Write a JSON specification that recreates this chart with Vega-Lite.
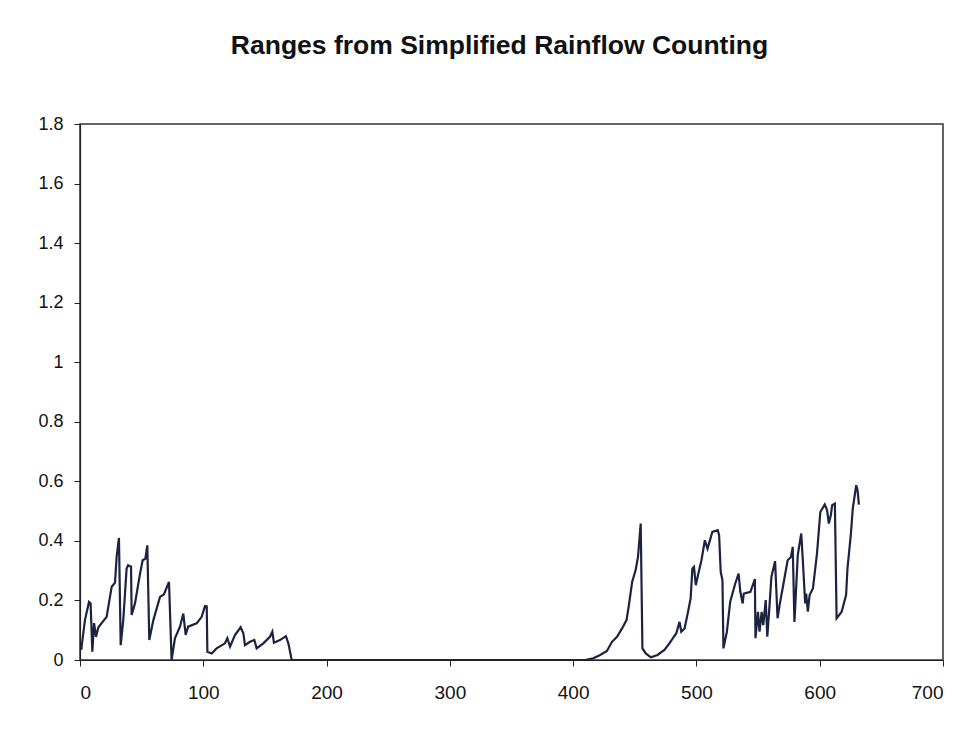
{
  "$schema": "https://vega.github.io/schema/vega-lite/v6.json",
  "autosize": {"type": "none"},
  "width": 863,
  "height": 536,
  "padding": {"left": 80, "top": 124, "right": 28, "bottom": 71},
  "background": "white",
  "title": {
    "text": "Ranges from Simplified Rainflow Counting",
    "font": "Liberation Sans",
    "fontSize": 26.5,
    "fontWeight": "bold",
    "color": "#111111",
    "anchor": "middle",
    "frame": "group",
    "dx": -12,
    "baseline": "alphabetic",
    "offset": 35
  },
  "data": {
    "values": [
      {"x": 1, "y": 0.034}, {"x": 4, "y": 0.134}, {"x": 7.3, "y": 0.195}, {"x": 8.6, "y": 0.19},
      {"x": 10, "y": 0.028}, {"x": 11.4, "y": 0.124}, {"x": 13, "y": 0.078}, {"x": 14.9, "y": 0.11},
      {"x": 21.6, "y": 0.145}, {"x": 25.7, "y": 0.246}, {"x": 28.4, "y": 0.26}, {"x": 29.7, "y": 0.346},
      {"x": 31.6, "y": 0.41}, {"x": 33, "y": 0.05}, {"x": 35.1, "y": 0.134}, {"x": 37.8, "y": 0.307},
      {"x": 39, "y": 0.318}, {"x": 41.4, "y": 0.313}, {"x": 41.9, "y": 0.151}, {"x": 44.6, "y": 0.19},
      {"x": 48.7, "y": 0.29}, {"x": 50.8, "y": 0.335}, {"x": 53, "y": 0.34}, {"x": 54.6, "y": 0.385},
      {"x": 56.2, "y": 0.067}, {"x": 59.5, "y": 0.134}, {"x": 64.9, "y": 0.212}, {"x": 68, "y": 0.22},
      {"x": 72.2, "y": 0.262}, {"x": 74.3, "y": 0}, {"x": 77, "y": 0.073}, {"x": 81.1, "y": 0.112},
      {"x": 83.8, "y": 0.156}, {"x": 85.7, "y": 0.084}, {"x": 87.7, "y": 0.112}, {"x": 94.6, "y": 0.123},
      {"x": 98.7, "y": 0.145}, {"x": 101.4, "y": 0.181}, {"x": 102.8, "y": 0.18}, {"x": 103.3, "y": 0.028},
      {"x": 106.8, "y": 0.022}, {"x": 110.8, "y": 0.039}, {"x": 117.6, "y": 0.056}, {"x": 119.5, "y": 0.073},
      {"x": 121.7, "y": 0.045}, {"x": 125.7, "y": 0.084}, {"x": 130.3, "y": 0.11}, {"x": 132.5, "y": 0.09},
      {"x": 133.8, "y": 0.05}, {"x": 137.9, "y": 0.061}, {"x": 141.4, "y": 0.067}, {"x": 143.3, "y": 0.039},
      {"x": 148.7, "y": 0.056}, {"x": 154.1, "y": 0.078}, {"x": 156, "y": 0.095}, {"x": 157.3, "y": 0.058},
      {"x": 162.2, "y": 0.067}, {"x": 167, "y": 0.08}, {"x": 169, "y": 0.056}, {"x": 171.7, "y": 0},
      {"x": 300, "y": 0}, {"x": 409.6, "y": 0},
      {"x": 416.4, "y": 0.006}, {"x": 421.9, "y": 0.017}, {"x": 427.4, "y": 0.03}, {"x": 431.5, "y": 0.061},
      {"x": 435.6, "y": 0.078}, {"x": 439.7, "y": 0.106}, {"x": 443.3, "y": 0.134}, {"x": 445.2, "y": 0.184},
      {"x": 447.9, "y": 0.263}, {"x": 450.7, "y": 0.302}, {"x": 452.6, "y": 0.346}, {"x": 454.8, "y": 0.458},
      {"x": 456.2, "y": 0.039}, {"x": 458.9, "y": 0.022}, {"x": 463, "y": 0.009}, {"x": 468.5, "y": 0.017},
      {"x": 474, "y": 0.034}, {"x": 478.1, "y": 0.056}, {"x": 481.6, "y": 0.078}, {"x": 483.6, "y": 0.089},
      {"x": 486.3, "y": 0.128}, {"x": 487.7, "y": 0.095}, {"x": 490.4, "y": 0.106}, {"x": 493.2, "y": 0.162},
      {"x": 495.3, "y": 0.207}, {"x": 496.7, "y": 0.307}, {"x": 498, "y": 0.313}, {"x": 499.5, "y": 0.251},
      {"x": 501.9, "y": 0.296}, {"x": 504.1, "y": 0.335}, {"x": 506.8, "y": 0.402}, {"x": 509, "y": 0.374},
      {"x": 512.9, "y": 0.43}, {"x": 517.3, "y": 0.436}, {"x": 518.4, "y": 0.419}, {"x": 519.7, "y": 0.296},
      {"x": 521.1, "y": 0.268}, {"x": 521.9, "y": 0.039}, {"x": 524.7, "y": 0.095}, {"x": 527.4, "y": 0.196},
      {"x": 531.5, "y": 0.257}, {"x": 534.2, "y": 0.29}, {"x": 535.6, "y": 0.229}, {"x": 537.5, "y": 0.19},
      {"x": 538.4, "y": 0.223}, {"x": 543.8, "y": 0.229}, {"x": 547.4, "y": 0.272}, {"x": 547.9, "y": 0.073},
      {"x": 549.9, "y": 0.162}, {"x": 551.2, "y": 0.095}, {"x": 552.9, "y": 0.162}, {"x": 554.2, "y": 0.117},
      {"x": 556.2, "y": 0.201}, {"x": 557.5, "y": 0.078}, {"x": 559.5, "y": 0.196}, {"x": 560.8, "y": 0.279},
      {"x": 563.8, "y": 0.332}, {"x": 565.8, "y": 0.14}, {"x": 567.7, "y": 0.19}, {"x": 569.9, "y": 0.24},
      {"x": 574, "y": 0.335}, {"x": 576.7, "y": 0.346}, {"x": 578.1, "y": 0.38}, {"x": 579.5, "y": 0.128},
      {"x": 582.2, "y": 0.352}, {"x": 585, "y": 0.425}, {"x": 586.3, "y": 0.335}, {"x": 588.2, "y": 0.19},
      {"x": 589, "y": 0.223}, {"x": 590.4, "y": 0.162}, {"x": 591.8, "y": 0.218}, {"x": 594.5, "y": 0.24},
      {"x": 597.8, "y": 0.358}, {"x": 600.5, "y": 0.497}, {"x": 604.1, "y": 0.522}, {"x": 606, "y": 0.503},
      {"x": 607.4, "y": 0.458}, {"x": 609, "y": 0.486}, {"x": 610.1, "y": 0.52}, {"x": 612.3, "y": 0.525},
      {"x": 613.7, "y": 0.14}, {"x": 617.8, "y": 0.162}, {"x": 621.4, "y": 0.218}, {"x": 622.5, "y": 0.307},
      {"x": 625.2, "y": 0.419}, {"x": 626.8, "y": 0.508}, {"x": 629.6, "y": 0.587}, {"x": 630.7, "y": 0.57},
      {"x": 631.8, "y": 0.522}
    ]
  },
  "mark": {"type": "line", "color": "#1c2340", "strokeWidth": 2.2, "interpolate": "linear", "clip": true},
  "encoding": {
    "x": {
      "field": "x", "type": "quantitative",
      "scale": {"domain": [0, 700], "nice": false, "zero": true},
      "axis": {"title": null, "values": [0, 100, 200, 300, 400, 500, 600, 700], "format": "d", "labelPadding": 17, "labelFontSize": 19}
    },
    "y": {
      "field": "y", "type": "quantitative",
      "scale": {"domain": [0, 1.8], "nice": false},
      "axis": {"title": null, "values": [0, 0.2, 0.4, 0.6, 0.8, 1, 1.2, 1.4, 1.6, 1.8], "format": "~g", "labelPadding": 11}
    }
  },
  "config": {
    "view": {"stroke": "#333333", "strokeWidth": 1.5},
    "axis": {
      "grid": false,
      "domainColor": "#222222",
      "domainWidth": 1.2,
      "tickColor": "#222222",
      "tickSize": 6,
      "labelColor": "#111111",
      "labelFont": "Liberation Sans",
      "labelFontSize": 18
    }
  }
}
